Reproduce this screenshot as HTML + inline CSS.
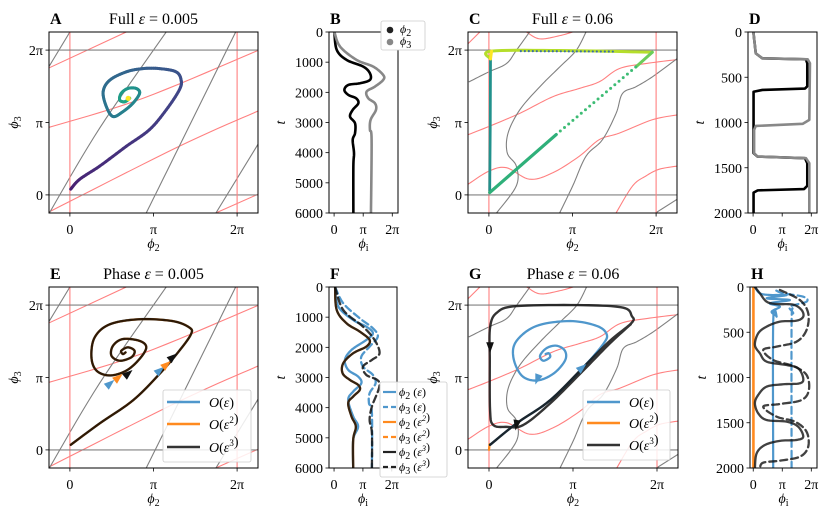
<!DOCTYPE html>
<html><head><meta charset="utf-8">
<style>
html,body{margin:0;padding:0;background:#fff;}
svg{display:block;font-family:"Liberation Serif","DejaVu Serif",serif;}
</style></head>
<body>
<svg id="fig" xmlns="http://www.w3.org/2000/svg" width="830" height="515" viewBox="0 0 830 515"></svg>
<script>
// ---------------- DATA ----------------
const PI = Math.PI;
// background nullclines, weak coupling (panels A, E)
const bgWeakGrayX = [[-0.77,0.0],[-0.77,1.12,3.62],[2.87,4.11,6.23],[5.49,7.07]];
const bgWeakGrayY = [[5.6,7.07],[-0.78,2.9,7.07],[-0.78,2.11,7.07],[-0.78,2.2]];
const bgWeakRedX = [[-0.785,2.12],[-0.785,2.74,7.07],[-0.785,4.11,7.07],[5.49,7.07]];
const bgWeakRedY = [[5.51,7.07],[2.93,4.19,6.27],[-0.74,2.11,3.64],[-0.78,0.03]];
// background nullclines, strong coupling (panels C, G)
const bgStrongGrayX = [[-0.74,0.0,0.66,1.03,1.53],[0.29,1.03,1.03,0.69,0.72,1.16,1.91,2.66,3.28,3.65],[2.66,3.15,3.65,4.27,4.78,5.02,5.52,6.14,7.07],[6.27,7.07]];
const bgStrongGrayY = [[4.91,5.34,5.70,6.27,7.07],[-0.78,0.39,1.25,1.82,2.68,3.69,4.69,5.55,6.27,7.07],[-0.78,0.39,1.68,2.40,3.54,4.40,4.69,5.12,5.91],[-0.78,-0.19]];
const bgStrongRedX = [[-0.785,0.0,0.66,1.53,2.40,3.40,4.15,4.90,6.14,7.07],[-0.785,0.0,1.16,2.40,3.40,4.15,4.90,5.90,7.07],[-0.785,-0.34],[1.41,1.91,2.66,3.15],[4.78,5.40,5.90,6.39,7.07]];
const bgStrongRedY = [[0.46,1.03,1.18,0.68,0.96,1.68,2.40,2.68,3.26,3.47],[2.61,2.97,3.54,4.26,4.62,4.91,5.48,5.70,5.87],[6.56,7.07],[7.07,6.77,6.91,7.07],[-0.78,0.39,0.82,1.11,1.25]];
// Panel A trajectory (full model, eps=0.005)
const trajAx = [0.03,0.37,1.12,2.12,2.99,3.62,4.11,4.18,3.99,3.37,2.74,2.12,1.50,1.25,1.37,1.62,1.99,2.37,2.62,2.49,2.18,1.93,1.87,2.06,2.24,2.19];
const trajAy = [0.25,0.68,1.25,2.11,2.83,3.69,4.55,4.98,5.34,5.48,5.48,5.34,4.98,4.48,3.83,3.40,3.61,3.98,4.41,4.62,4.62,4.41,4.12,4.04,4.19,4.19];
// Panel B time series
const tB_phi2 = [0,596,927,1148,1369,1589,1699,1755,1921,2086,2196,2362,2583,2804,3025,3355,3576,4018,4459,6000];
const xB_phi2 = [0.03,0.29,1.36,3.15,3.87,3.87,2.80,1.54,1.11,1.54,2.37,2.62,2.01,1.72,2.26,2.26,2.01,2.15,2.08,2.08];
const tB_phi3 = [0,486,927,1148,1424,1589,1810,1976,2196,2362,2583,2914,3245,3576,6000];
const xB_phi3 = [0.03,0.65,2.44,4.23,5.30,5.30,4.41,3.51,3.69,4.41,4.52,3.94,3.87,4.05,3.98];
// Panel C trajectory (full model, eps=0.06)
const trajCvertX = [0.03,0.05,0.06];
const trajCvertY = [0.17,3.0,5.9];
const trajCtopX = [0.06,0.1,3.0,6.14];
const trajCtopY = [5.9,6.24,6.26,6.19];
const trajCdiagX = [6.14,5.52,2.53,0.03];
const trajCdiagY = [6.19,5.55,2.62,0.10];
// Panel D time series
const tD_phi3 = [0,236,291,302,346,971,1015,1038,1082,1339,1376,1394,1450,2000];
const xD_phi3 = [0.03,0.29,1.01,5.89,6.14,6.07,5.35,0.29,0.11,0.11,0.47,5.71,6.07,6.07];
const tD_phi2 = [0,236,291,302,346,600,625,640,660,1339,1376,1394,1450,1700,1735,1750,1775,2000];
const xD_phi2 = [0.03,0.29,1.0,5.7,5.85,5.85,5.6,1.0,0.05,0.05,0.47,5.6,5.85,5.85,5.5,0.5,0.05,0.05];
// Panel E trajectory (phase model, eps=0.005)
const trajEx = [0.03,1.12,2.37,3.37,4.11,4.55,4.49,3.86,2.62,1.50,0.93,0.81,1.00,1.50,2.12,2.62,2.87,2.62,1.99,1.62,1.56,1.87,2.31,2.43,2.18,1.93,1.99,2.09];
const trajEy = [0.22,1.15,2.15,3.30,4.30,5.02,5.31,5.59,5.67,5.45,4.88,4.02,3.44,3.23,3.44,3.95,4.45,4.73,4.81,4.52,4.09,3.87,4.02,4.30,4.45,4.30,4.16,4.23];
const arrowsEx = [1.50,1.81,2.18,3.37,3.62,3.86];
const arrowsEy = [2.87,3.13,3.30,3.44,3.69,4.02];
const arrowsEorder = [0,1,2,0,1,2];
// Panel F time series
const tF_phi2_e3 = [0,762,1203,1479,1755,1976,2196,2527,2859,3080,3245,3411,3631,3851,4293,4625,5066,6000];
const xF_phi2_e3 = [0.11,0.29,1.36,2.80,3.87,3.51,2.08,1.00,0.93,1.72,2.62,2.80,2.08,1.54,1.90,2.37,2.08,2.08];
const tF_phi2_e1 = [0,651,1093,1313,1534,1755,2086,2417,2748,2969,3190,3466,3742,4293,4625,5066,6000];
const xF_phi2_e1 = [0.11,0.47,2.08,3.51,4.23,3.51,1.90,1.18,1.54,2.62,2.97,2.08,1.54,2.08,2.62,2.08,2.08];
const tF_phi3_e1 = [0,540,1037,1369,1645,1976,2307,2638,2914,3190,3521,3852,4183,6000];
const xF_phi3_e1 = [0.11,1.0,2.80,4.23,4.76,3.87,2.97,3.15,4.23,4.52,3.87,3.80,4.12,4.12];
const tF_phi3_e3 = [0,762,1313,1755,2196,2417,2638,2914,3190,3962,4404,4846,6000];
const xF_phi3_e3 = [0.11,1.0,3.15,4.41,4.95,4.12,3.15,3.51,4.95,4.12,3.87,4.12,4.12];
// Panel G trajectories (phase model, eps=0.06)
const trajG3x = [0.04,1.03,2.28,3.53,4.52,5.34,5.34,5.02,3.53,1.03,0.29,0.04,0.03,0.04,0.16,0.66,1.28,2.28,3.53,4.52,5.30];
const trajG3y = [0.22,1.15,2.15,3.59,4.73,5.52,5.81,6.17,6.28,6.24,5.95,5.31,3.87,1.72,1.08,1.00,1.08,2.01,3.45,4.62,5.45];
const trajG1x = [0.04,1.03,2.28,3.53,4.27,4.40,4.03,3.03,1.78,1.03,0.91,1.22,1.78,2.40,2.84,2.84,2.53,2.16,1.91,2.03,2.28,2.24,2.12];
const trajG1y = [0.22,1.15,2.15,3.59,4.59,5.02,5.38,5.59,5.38,4.73,4.02,3.23,3.01,3.30,3.87,4.30,4.52,4.42,4.09,3.87,4.02,4.19,4.16];
const trajG2x = [0.0,0.02];
const trajG2y = [0.0,0.25];
const arrowsGx = [0.04,1.03,1.81,3.47];
const arrowsGy = [4.47,1.10,3.08,3.56];
const arrowsGorder = [2,2,0,0];
// Panel H time series
const tH_phi2_e3 = [0,70,162,188,195,254,328,372,383,438,512,641,733,825,862,898,1009,1064,1075,1101,1193,1285,1396,1470,1488,1543,1654,1690,1700,1746,1838,2000];
const xH_phi2_e3 = [0.18,0.72,1.45,2.53,4.32,5.23,5.41,4.69,2.89,1.45,0.54,0.18,0.72,1.45,3.61,4.86,5.41,5.05,3.24,1.45,0.54,0.18,0.54,1.45,3.61,4.86,5.41,4.69,2.89,1.26,0.37,0.18];
const tH_phi3_e3 = [33,144,291,475,604,659,696,807,873,972,1138,1249,1293,1322,1433,1488,1599,1765,1875,1919,1941,2000];
const xH_phi3_e3 = [2.89,5.05,5.95,5.77,4.69,2.53,1.08,2.16,4.32,5.77,6.02,5.23,2.89,1.08,2.53,4.51,5.77,5.95,5.05,2.89,1.08,0.72];
const tH_phi2_e1 = [0,70,88,90,125,144,180,217,273,328,383,2000];
const xH_phi2_e1 = [0.18,0.72,1.81,3.61,1.45,3.97,1.81,2.89,1.99,2.53,2.16,2.16];
const tH_phi3_e1 = [40,70,107,162,217,291,383,2000];
const xH_phi3_e1 = [2.5,3.24,5.41,5.77,3.97,4.32,4.15,4.15];
const tH_phi2_e2 = [0,2000];
const xH_phi2_e2 = [0.02,0.02];
// axis ticks
const phaseTicks = [0, PI, 2*PI];
const phaseTickLabels = ["0","π","2π"];
const tTicksLong = [0,1000,2000,3000,4000,5000,6000];
const tTicksShort = [0,500,1000,1500,2000];

// ---------------- DRAWING ----------------
const NS = "http://www.w3.org/2000/svg";
const svg = document.getElementById('fig');
function mk(tag, attrs, parent){
  const e = document.createElementNS(NS, tag);
  for (const k in attrs) e.setAttribute(k, attrs[k]);
  (parent||svg).appendChild(e);
  return e;
}
const C_BLUE = "#4f97cc", C_ORANGE = "#ff8a1f", C_BLACK = "#222222";
const C_RED = "#ff8080", C_GRAY = "#808080";
const PR = [-PI/4, 2*PI+PI/4];

const panels = {
  A:{x0:49,x1:258,y0:32,y1:213,xr:PR,yr:PR,t:false,label:"A",title:"Full",eps:"0.005"},
  B:{x0:329,x1:398,y0:32,y1:213,xr:[-0.55,6.9],yr:[0,6000],t:true,label:"B",ticks:tTicksLong},
  C:{x0:468,x1:677,y0:32,y1:213,xr:PR,yr:PR,t:false,label:"C",title:"Full",eps:"0.06"},
  D:{x0:748,x1:817,y0:32,y1:213,xr:[-0.55,6.9],yr:[0,2000],t:true,label:"D",ticks:tTicksShort},
  E:{x0:49,x1:258,y0:287,y1:468,xr:PR,yr:PR,t:false,label:"E",title:"Phase",eps:"0.005"},
  F:{x0:329,x1:397,y0:287,y1:468,xr:[-0.55,6.85],yr:[0,6000],t:true,label:"F",ticks:tTicksLong},
  G:{x0:468,x1:678,y0:287,y1:468,xr:PR,yr:PR,t:false,label:"G",title:"Phase",eps:"0.06"},
  H:{x0:750,x1:817,y0:287,y1:468,xr:[-0.35,6.9],yr:[0,2000],t:true,label:"H",ticks:tTicksShort}
};
function sx(p,v){return p.x0+(v-p.xr[0])/(p.xr[1]-p.xr[0])*(p.x1-p.x0);}
function sy(p,v){
  const f=(v-p.yr[0])/(p.yr[1]-p.yr[0]);
  return p.t ? p.y0+f*(p.y1-p.y0) : p.y1-f*(p.y1-p.y0);
}
function dense(pts, n){
  if (pts.length<3) return pts;
  const out=[];
  for(let i=0;i<pts.length-1;i++){
    const p0=pts[Math.max(0,i-1)],p1=pts[i],p2=pts[i+1],p3=pts[Math.min(pts.length-1,i+2)];
    for(let k=0;k<n;k++){
      const t=k/n,t2=t*t,t3=t2*t;
      const f=(a,b,c,d)=>0.5*((2*b)+(-a+c)*t+(2*a-5*b+4*c-d)*t2+(-a+3*b-3*c+d)*t3);
      out.push([f(p0[0],p1[0],p2[0],p3[0]),f(p0[1],p1[1],p2[1],p3[1])]);
    }
  }
  out.push(pts[pts.length-1]);
  return out;
}
function pts(p,xs,ys){return xs.map((x,i)=>[sx(p,x),sy(p,ys[i])]);}
function dstr(a){return a.map((q,i)=>(i?"L":"M")+q[0].toFixed(2)+","+q[1].toFixed(2)).join("");}
function curve(g,p,xs,ys,style,name,smooth){
  const a = smooth===false ? pts(p,xs,ys) : dense(pts(p,xs,ys),10);
  const el = mk('path',Object.assign({d:dstr(a),fill:"none","stroke-linejoin":"round","stroke-linecap":"round"},style),g);
  
  
  return el;
}
const VIR=["#440154","#482475","#414487","#355f8d","#2a788e","#21918c","#22a884","#44bf70","#7ad151","#bddf26","#fde725"];
function hex(c){return [1,3,5].map(i=>parseInt(c.substr(i,2),16));}
function viridis(f){
  f=Math.max(0,Math.min(1,f));const s=f*10,i=Math.min(9,Math.floor(s)),r=s-i;
  const a=hex(VIR[i]),b=hex(VIR[i+1]);
  return "rgb("+a.map((v,k)=>Math.round(v+(b[k]-v)*r)).join(",")+")";
}
function tri(g,p,x,y,ang,color,name){
  const cx=sx(p,x),cy=sy(p,y),r=6;
  const pp=[0,140,220].map(d=>{const a=(ang+d)*PI/180;return (cx+r*Math.cos(a)).toFixed(1)+","+(cy+r*Math.sin(a)).toFixed(1);});
  const el=mk('polygon',{points:pp.join(" "),fill:color},g);
  
  
}
function txt(parent,x,y,attrs,html,name){
  const e=mk('text',Object.assign({x:x,y:y,"font-size":14,fill:"#000"},attrs),parent);
  e.innerHTML=html;
  
  
  return e;
}
const phi=(s)=>'<tspan font-style="italic">ϕ</tspan><tspan dy="3" font-size="10">'+s+'</tspan>';

let clipN=0;
function setupPanel(key){
  const p=panels[key];
  const g=mk('g',{});
  
  
  const cid='clip'+(clipN++);
  const cp=mk('clipPath',{id:cid},g);
  mk('rect',{x:p.x0,y:p.y0,width:p.x1-p.x0,height:p.y1-p.y0},cp);
  const plot=mk('g',{'clip-path':'url(#'+cid+')'},g);
  
  
  p.g=g;p.plot=plot;
  return p;
}
function finishPanel(key, xlabel, ylabel){
  const p=panels[key],g=p.g;
  const fr=mk('rect',{x:p.x0,y:p.y0,width:p.x1-p.x0,height:p.y1-p.y0,fill:"none",stroke:"#000","stroke-width":1},g);
  
  
  phaseTicks.forEach((v,i)=>{
    const x=sx(p,v);
    const tk=mk('line',{x1:x,x2:x,y1:p.y1,y2:p.y1+3.5,stroke:"#000","stroke-width":0.8},g);
    
    
    txt(g,x,p.y1+21,{"text-anchor":"middle"},phaseTickLabels[i],'x-tick-label');
  });
  txt(g,(p.x0+p.x1)/2,p.y1+35,{"text-anchor":"middle"},xlabel,'x-axis-title');
  const yt = p.t ? p.ticks : phaseTicks;
  yt.forEach((v,i)=>{
    const y=sy(p,v);
    const tk=mk('line',{x1:p.x0-3.5,x2:p.x0,y1:y,y2:y,stroke:"#000","stroke-width":0.8},g);
    
    
    txt(g,p.x0-6,y+5,{"text-anchor":"end"},p.t?String(v):phaseTickLabels[i],'y-tick-label');
  });
  const lx = p.t ? p.x0-44 : p.x0-31;
  txt(g,lx,(p.y0+p.y1)/2,{"text-anchor":"middle",transform:"rotate(-90 "+lx+" "+((p.y0+p.y1)/2)+")"},ylabel,'y-axis-title');
  txt(g,p.x0+1,p.y0-8,{"font-size":16,"font-weight":"bold"},p.label,'panel-label');
  if(p.title) txt(g,(p.x0+p.x1)/2,p.y0-8,{"font-size":16,"text-anchor":"middle"},p.title+' <tspan font-style="italic">ε</tspan> = '+p.eps,'panel-title');
}
function phaseBackground(p, grayX, grayY, redX, redY){
  redX.forEach((xs,i)=>curve(p.plot,p,xs,redY[i],{stroke:C_RED,"stroke-width":1.1},'red-nullcline'));
  grayX.forEach((xs,i)=>curve(p.plot,p,xs,grayY[i],{stroke:C_GRAY,"stroke-width":1.1},'gray-nullcline'));
  [0,2*PI].forEach(v=>{
    const l=mk('line',{x1:sx(p,v),x2:sx(p,v),y1:p.y0,y2:p.y1,stroke:C_RED,"stroke-width":1.1},p.plot);
    
    
    const h=mk('line',{x1:p.x0,x2:p.x1,y1:sy(p,v),y2:sy(p,v),stroke:C_GRAY,"stroke-width":1.1},p.plot);
    
    
  });
}

// ---- Panel A ----
(function(){
  const p=setupPanel('A');
  phaseBackground(p,bgWeakGrayX,bgWeakGrayY,bgWeakRedX,bgWeakRedY);
  const a=dense(pts(p,trajAx,trajAy),8);
  for(let i=0;i<a.length-1;i++){
    const s=mk('line',{x1:a[i][0],y1:a[i][1],x2:a[i+1][0],y2:a[i+1][1],stroke:viridis(0.08+0.55*i/a.length),"stroke-width":3,"stroke-linecap":"round"},p.plot);
    
    
  }
  const n=trajAx.length-1;
  const dot=mk('circle',{cx:sx(p,trajAx[n]),cy:sy(p,trajAy[n]),r:2.6,fill:"#fde725"},p.plot);
  
  
  finishPanel('A',phi('2'),phi('3'));
})();
// ---- Panel B ----
(function(){
  const p=setupPanel('B');
  curve(p.plot,p,xB_phi2,tB_phi2,{stroke:"#000","stroke-width":2.6},'phi2-line');
  curve(p.plot,p,xB_phi3,tB_phi3,{stroke:"#888","stroke-width":2.6},'phi3-line');
  finishPanel('B',phi('i'),'<tspan font-style="italic">t</tspan>');
  const lg=mk('g',{},svg);
  
  
  mk('rect',{x:381,y:21,width:44,height:29,rx:2,fill:"#fff",stroke:"#ccc","stroke-width":0.8},lg);
  const c1=mk('circle',{cx:390,cy:30,r:3.3,fill:"#222"},lg);
  
  
  const c2=mk('circle',{cx:390,cy:42,r:3.3,fill:"#888"},lg);
  
  
  txt(lg,400,33,{"font-size":12},phi('2'),'legend-entry-phi2');
  txt(lg,400,45,{"font-size":12},phi('3'),'legend-entry-phi3');
})();
// ---- Panel C ----
(function(){
  const p=setupPanel('C');
  phaseBackground(p,bgStrongGrayX,bgStrongGrayY,bgStrongRedX,bgStrongRedY);
  curve(p.plot,p,trajCvertX,trajCvertY,{stroke:"#21918c","stroke-width":2.8},'trajectory-vertical',false);
  curve(p.plot,p,trajCtopX,trajCtopY,{stroke:"#b5de2b","stroke-width":3},'trajectory-top');
  curve(p.plot,p,[trajCtopX[0],trajCtopX[1]],[trajCtopY[0],trajCtopY[1]],{stroke:"#fde725","stroke-width":3},'trajectory-top-corner',false);
  curve(p.plot,p,[1.2,4.8],[6.24,6.22],{stroke:"#3b6ea5","stroke-width":2.2,"stroke-dasharray":"0 4"},'trajectory-top-dots',false);
  curve(p.plot,p,[trajCdiagX[0],trajCdiagX[1]],[trajCdiagY[0],trajCdiagY[1]],{stroke:"#6ccd5a","stroke-width":3},'trajectory-diagonal-end',false);
  curve(p.plot,p,[trajCdiagX[1],trajCdiagX[2]],[trajCdiagY[1],trajCdiagY[2]],{stroke:"#3dbc74","stroke-width":3,"stroke-dasharray":"0 5.5"},'trajectory-diagonal-dots',false);
  curve(p.plot,p,[trajCdiagX[2],trajCdiagX[3]],[trajCdiagY[2],trajCdiagY[3]],{stroke:"#2fb07a","stroke-width":3.2},'trajectory-diagonal-start',false);
  finishPanel('C',phi('2'),phi('3'));
})();
// ---- Panel D ----
(function(){
  const p=setupPanel('D');
  curve(p.plot,p,xD_phi2,tD_phi2,{stroke:"#000","stroke-width":2.6},'phi2-line',false);
  curve(p.plot,p,xD_phi3,tD_phi3,{stroke:"#888","stroke-width":2.6},'phi3-line',false);
  finishPanel('D',phi('i'),'<tspan font-style="italic">t</tspan>');
})();
// ---- Panel E ----
(function(){
  const p=setupPanel('E');
  phaseBackground(p,bgWeakGrayX,bgWeakGrayY,bgWeakRedX,bgWeakRedY);
  curve(p.plot,p,trajEx,trajEy,{stroke:C_BLUE,"stroke-width":2.4},'trajectory-order1');
  curve(p.plot,p,trajEx,trajEy,{stroke:C_ORANGE,"stroke-width":2.3},'trajectory-order2');
  curve(p.plot,p,trajEx,trajEy,{stroke:"#000","stroke-width":2.2,"stroke-opacity":0.82},'trajectory-order3');
  const cols=[C_BLUE,C_ORANGE,"#111"];
  arrowsEx.forEach((x,i)=>tri(p.plot,p,x,arrowsEy[i],-40,cols[arrowsEorder[i]],'direction-arrow'));
  finishPanel('E',phi('2'),phi('3'));
})();
// ---- Panel F ----
(function(){
  const p=setupPanel('F');
  curve(p.plot,p,xF_phi2_e1,tF_phi2_e1,{stroke:C_BLUE,"stroke-width":2.3},'phi2-order1');
  curve(p.plot,p,xF_phi3_e1,tF_phi3_e1,{stroke:C_BLUE,"stroke-width":2.3,"stroke-dasharray":"7 4"},'phi3-order1');
  curve(p.plot,p,xF_phi2_e3,tF_phi2_e3,{stroke:C_ORANGE,"stroke-width":2.3},'phi2-order2');
  curve(p.plot,p,xF_phi2_e3,tF_phi2_e3,{stroke:"#111","stroke-width":2.3,"stroke-opacity":0.85},'phi2-order3');
  curve(p.plot,p,xF_phi3_e3,tF_phi3_e3,{stroke:"#111","stroke-width":2.3,"stroke-opacity":0.85,"stroke-dasharray":"7 4"},'phi3-order3');
  finishPanel('F',phi('i'),'<tspan font-style="italic">t</tspan>');
  const lg=mk('g',{},svg);
  
  
  mk('rect',{x:380,y:382,width:67,height:95,rx:2,fill:"#fff","fill-opacity":0.85,stroke:"#ccc","stroke-width":0.8},lg);
  const items=[[C_BLUE,false,'2','ε'],[C_BLUE,true,'3','ε'],[C_ORANGE,false,'2','ε<tspan dy="-5" font-size="8">2</tspan>'],[C_ORANGE,true,'3','ε<tspan dy="-5" font-size="8">2</tspan>'],["#222",false,'2','ε<tspan dy="-5" font-size="8">3</tspan>'],["#222",true,'3','ε<tspan dy="-5" font-size="8">3</tspan>']];
  items.forEach((it,i)=>{
    const y=392+i*15;
    const l=mk('line',{x1:383,x2:396,y1:y,y2:y,stroke:it[0],"stroke-width":2.2,"stroke-dasharray":it[1]?"5 3":"none"},lg);
    
    
    txt(lg,399,y+4,{"font-size":12},phi(it[2])+'<tspan dy="-3"> (</tspan><tspan font-style="italic">'+it[3]+'</tspan>)','legend-entry');
  });
})();
// ---- Panel G ----
(function(){
  const p=setupPanel('G');
  phaseBackground(p,bgStrongGrayX,bgStrongGrayY,bgStrongRedX,bgStrongRedY);
  curve(p.plot,p,trajG2x,trajG2y,{stroke:C_ORANGE,"stroke-width":2.3},'trajectory-order2',false);
  curve(p.plot,p,trajG1x,trajG1y,{stroke:C_BLUE,"stroke-width":2.3},'trajectory-order1');
  curve(p.plot,p,trajG3x,trajG3y,{stroke:"#111","stroke-width":2.4,"stroke-opacity":0.85},'trajectory-order3');
  const cols=[C_BLUE,C_ORANGE,"#111"];
  const angs=[90,100,110,-40];
  arrowsGx.forEach((x,i)=>tri(p.plot,p,x,arrowsGy[i],angs[i],cols[arrowsGorder[i]],'direction-arrow'));
  finishPanel('G',phi('2'),phi('3'));
})();
// ---- Panel H ----
(function(){
  const p=setupPanel('H');
  curve(p.plot,p,xH_phi2_e2,tH_phi2_e2,{stroke:C_ORANGE,"stroke-width":2.6},'phi2-order2',false);
  curve(p.plot,p,xH_phi2_e1,tH_phi2_e1,{stroke:C_BLUE,"stroke-width":2.2},'phi2-order1');
  curve(p.plot,p,xH_phi3_e1,tH_phi3_e1,{stroke:C_BLUE,"stroke-width":2.2,"stroke-dasharray":"7 4"},'phi3-order1');
  curve(p.plot,p,xH_phi2_e3,tH_phi2_e3,{stroke:"#111","stroke-width":2.3,"stroke-opacity":0.8},'phi2-order3');
  curve(p.plot,p,xH_phi3_e3,tH_phi3_e3,{stroke:"#111","stroke-width":2.3,"stroke-opacity":0.8,"stroke-dasharray":"7 4"},'phi3-order3');
  finishPanel('H',phi('i'),'<tspan font-style="italic">t</tspan>');
})();
// ---- Legends E and G ----
function orderLegend(x,y,w,h,rows,name){
  const lg=mk('g',{},svg);
  
  
  mk('rect',{x:x,y:y,width:w,height:h,rx:2,fill:"#fff","fill-opacity":0.85,stroke:"#ccc","stroke-width":0.8},lg);
  const cols=[C_BLUE,C_ORANGE,"#333"];
  const labs=['','<tspan dy="-6" font-size="9">2</tspan><tspan dy="6"></tspan>','<tspan dy="-6" font-size="9">3</tspan><tspan dy="6"></tspan>'];
  cols.forEach((c,i)=>{
    const yy=rows[i];
    const l=mk('line',{x1:x+4,x2:x+37,y1:yy,y2:yy,stroke:c,"stroke-width":2.6},lg);
    
    
    txt(lg,x+46,yy+5,{"font-size":14},'<tspan font-style="italic">O</tspan>(<tspan font-style="italic">ε</tspan>'+labs[i]+')','legend-entry');
  });
}
orderLegend(163,390,88,72,[402,424,447],'legend-e');
orderLegend(583,390,87,70,[402,423,445],'legend-g');
</script>
</body></html>
